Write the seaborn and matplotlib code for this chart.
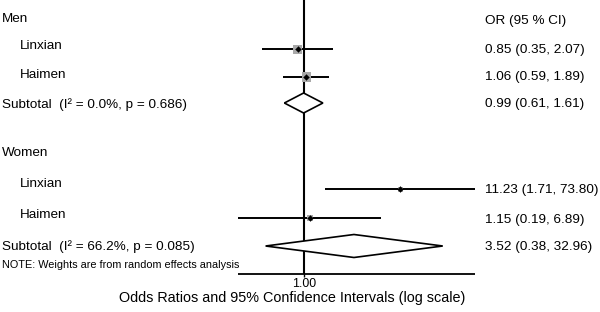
import numpy as np
import pandas as pd
import matplotlib
matplotlib.use("Agg")
import matplotlib.pyplot as plt
import seaborn as sns

# ---- data ----
group_names = ["Men", "Women"]
study_labels = ["Linxian", "Haimen", "Linxian", "Haimen"]
study_group = ["Men", "Men", "Women", "Women"]
study_or = [0.85, 1.06, 11.23, 1.15]
study_lo = [0.35, 0.59, 1.71, 0.19]
study_hi = [2.07, 1.89, 73.80, 6.89]
study_weight = [9.0, 9.5, 5.0, 6.0]  # box side (approx relative weights)
sub_labels = ["Subtotal  (I\u00b2 = 0.0%, p = 0.686)", "Subtotal  (I\u00b2 = 66.2%, p = 0.085)"]
sub_or = [0.99, 3.52]
sub_lo = [0.61, 0.38]
sub_hi = [1.61, 32.96]
tick_vals = [1.0]
tick_labels = ["1.00"]

def fmt(o, l, h):
    return f"{o:.2f} ({l:.2f}, {h:.2f})"

# ---- layout (pixel rows) ----
W, H = 600, 312
study_y = [49, 77, 189, 218]
study_text_y = [46, 75, 184, 215]
sub_y = [103, 246]
sub_text_y = [105, 247]
group_y = [19, 153]
px_per_decade = 91.4
x_ref = 304

sns.set_theme(style="white")
plt.rcParams['font.family'] = ['Liberation Sans', 'DejaVu Sans']
plt.rcParams['text.color'] = 'black'

fig = plt.figure(figsize=(6.0, 3.12), dpi=100)
ax = fig.add_axes([0, 0, 1, 1])
ax.set_xscale("log")
ax.set_xlim(10 ** (-x_ref / px_per_decade), 10 ** ((W - x_ref) / px_per_decade))
ax.set_ylim(H, 0)
ax.axis("off")

fs = 9.7
axis_y = 274
tr = ax.get_yaxis_transform()  # x in axes fraction, y in data

# null line
ax.vlines(1.0, 0, axis_y, color="black", lw=1.5, zorder=2)

# x axis
xmin = min(study_lo + sub_lo)
xmax = max(study_hi + sub_hi)
ax.hlines(axis_y, xmin, xmax, color="black", lw=1.3, zorder=2)
for tv, tl in zip(tick_vals, tick_labels):
    ax.vlines(tv, axis_y, axis_y + 3, color="black", lw=1.0)
    ax.text(tv, 284, tl, ha="center", va="center", fontsize=fs - 0.8, color="black")
ax.text(292 / W, 298, "Odds Ratios and 95% Confidence Intervals (log scale)",
        transform=tr, ha="center", va="center", fontsize=10.4, color="black")

# CI lines
ax.hlines(study_y, study_lo, study_hi, color="black", lw=1.4, zorder=3)

# weight boxes
df = pd.DataFrame({"or": study_or, "y": study_y, "w": study_weight, "g": study_group})
for _, r in df.iterrows():
    s = (r["w"] * 0.72) ** 2
    sns.scatterplot(x=[r["or"]], y=[r["y"]], marker="s", s=s, color="#a9a9a9",
                    edgecolor="none", ax=ax, zorder=4, legend=False)
sns.scatterplot(data=df, x="or", y="y", marker="D", s=9, color="black",
                edgecolor="black", ax=ax, zorder=5, legend=False)

# diamonds
for o, l, h, y in zip(sub_or, sub_lo, sub_hi, sub_y):
    hh = 10 if h / l < 5 else 11.5
    ax.fill([l, o, h, o, l], [y, y - hh, y, y + hh, y], facecolor="white",
            edgecolor="black", lw=1.2, zorder=4)

ax.set_xlabel("")
ax.set_ylabel("")

# left labels
for g, y in zip(group_names, group_y):
    ax.text(2 / W, y, g, transform=tr, ha="left", va="center", fontsize=fs, color="black")
for lab, y in zip(study_labels, study_text_y):
    ax.text(20 / W, y, lab, transform=tr, ha="left", va="center", fontsize=fs, color="black")
for lab, y in zip(sub_labels, sub_text_y):
    ax.text(2 / W, y, lab, transform=tr, ha="left", va="center", fontsize=fs, color="black")
ax.text(2 / W, 265, "NOTE: Weights are from random effects analysis", transform=tr,
        ha="left", va="center", fontsize=fs - 1.9, color="black")

# right column
ax.text(485 / W, 21, "OR (95 % CI)", transform=tr, ha="left", va="center", fontsize=fs, color="black")
for o, l, h, y in zip(study_or, study_lo, study_hi, [50, 77, 190, 220]):
    ax.text(485 / W, y, fmt(o, l, h), transform=tr, ha="left", va="center", fontsize=fs, color="black")
for o, l, h, y in zip(sub_or, sub_lo, sub_hi, [104, 247]):
    ax.text(485 / W, y, fmt(o, l, h), transform=tr, ha="left", va="center", fontsize=fs, color="black")

fig.savefig("out.png", dpi=100, facecolor="white")
